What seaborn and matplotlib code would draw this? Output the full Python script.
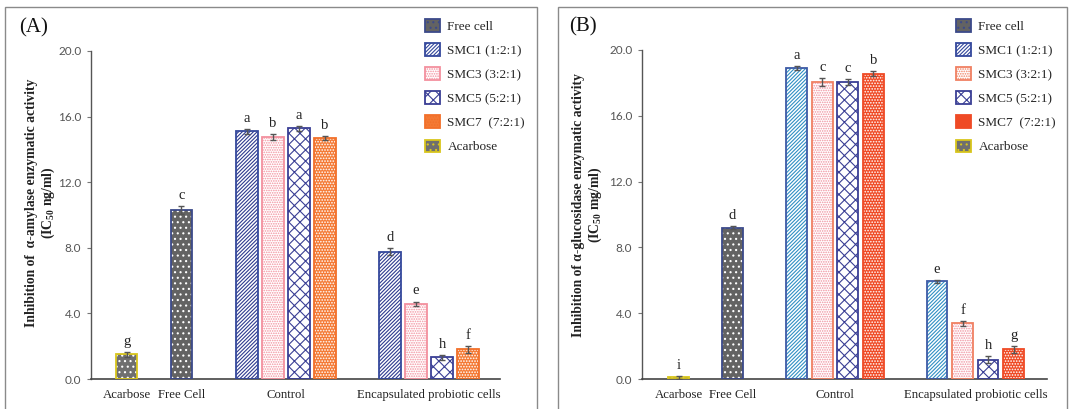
import numpy as np
import pandas as pd
import matplotlib
matplotlib.use("Agg")
import matplotlib.pyplot as plt
import matplotlib.patches as mpatches
import seaborn as sns

# ---- data -------------------------------------------------------------
group_names = ["Acarbose", "Free Cell", "Control", "Encapsulated probiotic cells"]
bar_groups = ["Acarbose", "Free Cell", "Control", "Control", "Control", "Control",
              "Encapsulated probiotic cells", "Encapsulated probiotic cells",
              "Encapsulated probiotic cells", "Encapsulated probiotic cells"]
bar_series = ["Acarbose", "Free cell", "SMC1", "SMC3", "SMC5", "SMC7",
              "SMC1", "SMC3", "SMC5", "SMC7"]
bar_positions = [1.37, 3.48, 6.0, 7.0, 8.0, 9.0, 11.5, 12.5, 13.5, 14.5]

amylase = [1.50, 10.30, 15.10, 14.75, 15.28, 14.68, 7.76, 4.60, 1.32, 1.81]
amylase_err = [0.15, 0.25, 0.15, 0.20, 0.15, 0.12, 0.20, 0.12, 0.15, 0.20]
amylase_letters = ["g", "c", "a", "b", "a", "b", "d", "e", "h", "f"]

glucosidase = [0.10, 9.20, 18.90, 18.07, 18.05, 18.55, 5.93, 3.38, 1.17, 1.80]
glucosidase_err = [0.10, 0.08, 0.10, 0.25, 0.20, 0.15, 0.10, 0.15, 0.20, 0.20]
glucosidase_letters = ["i", "d", "a", "c", "c", "b", "e", "f", "h", "g"]

legend_order = ["Free cell", "SMC1", "SMC3", "SMC5", "SMC7", "Acarbose"]
legend_labels = ["Free cell", "SMC1 (1:2:1)", "SMC3 (3:2:1)", "SMC5 (5:2:1)",
                 "SMC7  (7:2:1)", "Acarbose"]

# ---- styles -----------------------------------------------------------
# face colour, hatch colour, hatch, border colour
style_a = {
    "Acarbose":  ("#6f6f6f", "#ffffff", "...", "#d9c61c"),
    "Free cell": ("#636363", "#ffffff", "...", "#3c4a8a"),
    "SMC1":      ("#ffffff", "#2e3a8f", "/////////", "#34489c"),
    "SMC3":      ("#ffffff", "#f3909e", ".......", "#f3909e"),
    "SMC5":      ("#ffffff", "#3a3f95", "xxx", "#3a3f95"),
    "SMC7":      ("#f47a35", "#ffffff", "......", "#f2702a"),
}
style_b = dict(style_a)
style_b["SMC1"] = ("#ffffff", "#2f8fc4", "/////////", "#3d5aa6")
style_b["SMC3"] = ("#ffffff", "#f0909e", ".......", "#f08062")
style_b["SMC7"] = ("#ef4a25", "#ffffff", "......", "#ef4a25")
legend_style_b = dict(style_b)
legend_style_b["SMC1"] = style_a["SMC1"]

serif = ["Liberation Serif", "DejaVu Serif"]
sns.set_theme(style="white")
plt.rcParams["font.family"] = serif
plt.rcParams["hatch.linewidth"] = 0.8
plt.rcParams["mathtext.fontset"] = "custom"
plt.rcParams["mathtext.rm"] = "Liberation Serif:bold"
plt.rcParams["mathtext.it"] = "Liberation Serif:bold"
plt.rcParams["mathtext.bf"] = "Liberation Serif:bold"
plt.rcParams["mathtext.default"] = "rm"

W, H = 1070, 409
fig = plt.figure(figsize=(W / 100, H / 100), dpi=100)


def fx(px):
    return px / W


def fy(py):
    return 1 - py / H


def draw_panel(rect, values, errors, letters, styles, leg_styles, xlim,
               ylabel, tag, tag_xy, ylabel_xy, legend_xy):
    ax = fig.add_axes(rect)
    df = pd.DataFrame({"pos": bar_positions, "value": values, "err": errors,
                       "series": bar_series, "group": bar_groups})
    sns.barplot(data=df, x="pos", y="value", hue="series", native_scale=True,
                dodge=False, width=0.81, errorbar=None, legend=False,
                saturation=1, ax=ax)
    for patch in list(ax.patches):
        cx = patch.get_x() + patch.get_width() / 2
        i = int(np.argmin(np.abs(df["pos"].to_numpy() - cx)))
        face, hcol, hatch, border = styles[df["series"][i]]
        patch.set_facecolor(face)
        patch.set_edgecolor(hcol)
        patch.set_hatch(hatch)
        patch.set_linewidth(0)
        ax.add_patch(mpatches.Rectangle((patch.get_x(), patch.get_y()),
                                        patch.get_width(), patch.get_height(),
                                        fill=False, edgecolor=border,
                                        linewidth=1.3, zorder=3))
    ax.errorbar(df["pos"], df["value"], yerr=df["err"], fmt="none",
                ecolor="#555555", elinewidth=1.0, capsize=2.5, capthick=1.0,
                zorder=4)
    for p, v, e, t in zip(df["pos"], df["value"], df["err"], letters):
        ax.text(p, v + e + 0.25, t, ha="center", va="bottom", fontsize=10.5,
                color="#222222")

    centers = df.groupby("group", sort=False)["pos"].mean()
    ax.set_xticks([centers[g] for g in group_names])
    ax.set_xticklabels(group_names, fontsize=9.2, color="#222222")
    ax.set_xlim(*xlim)
    ax.set_ylim(0, 20)
    ax.set_yticks(np.arange(0, 20.1, 4))
    ax.set_yticklabels([f"{t:.1f}" for t in np.arange(0, 20.1, 4)],
                       fontsize=8.5, color="#555555", family="Lato")
    ax.tick_params(axis="x", length=0, pad=7)
    ax.tick_params(axis="y", length=3, width=0.8, color="#777777", pad=4,
                   direction="out", left=True)
    ax.set_xlabel("")
    ax.set_ylabel("")
    for s in ["top", "right"]:
        ax.spines[s].set_visible(False)
    ax.spines["left"].set_color("#555555")
    ax.spines["bottom"].set_color("#444444")
    ax.spines["left"].set_linewidth(1.0)
    ax.spines["bottom"].set_linewidth(1.2)

    fig.text(fx(ylabel_xy[0]), fy(ylabel_xy[1]), ylabel, rotation=90,
             ha="center", va="center", multialignment="center",
             fontsize=9.8, fontweight="bold", color="#222222")
    fig.text(fx(tag_xy[0]), fy(tag_xy[1]), tag, ha="left", va="center",
             fontsize=15, color="#111111")

    handles = []
    for s in legend_order:
        face, hcol, hatch, border = leg_styles[s]
        handles.append(mpatches.Patch(facecolor=face, edgecolor=border,
                                      hatch=hatch, linewidth=1.3))
    fig.legend(handles, legend_labels, loc="upper left",
               bbox_to_anchor=(fx(legend_xy[0]), fy(legend_xy[1])),
               frameon=False, fontsize=9.5, handlelength=1.1,
               handleheight=1.1, labelspacing=0.78, handletextpad=0.6,
               borderpad=0, borderaxespad=0)
    return ax


ax_a = draw_panel([fx(91), fy(379), fx(500) - fx(91), fy(51) - fy(379)],
                  amylase, amylase_err, amylase_letters, style_a, style_a,
                  (0, 15.73),
                  "Inhibition of  \u03b1-amylase enzymatic activity\n(IC$_{50}$ ng/ml)",
                  "(A)", (19, 28), (41, 203), (425, 19))
ax_b = draw_panel([fx(642), fy(379), fx(1047) - fx(642), fy(50) - fy(379)],
                  glucosidase, glucosidase_err, glucosidase_letters, style_b,
                  legend_style_b, (-0.07, 15.81),
                  "Inhibition of \u03b1-glucosidase enzymatic activity\n(IC$_{50}$ mg/ml)",
                  "(B)", (569, 27), (588, 205), (956, 19))

# panel frames
for x0, x1 in [(5, 537), (558, 1067)]:
    fig.add_artist(mpatches.Rectangle((fx(x0), -0.05), fx(x1) - fx(x0),
                                      fy(7) + 0.05, transform=fig.transFigure,
                                      fill=False, edgecolor="#8a8a8a",
                                      linewidth=1.0))

fig.savefig("out.png", dpi=100)
